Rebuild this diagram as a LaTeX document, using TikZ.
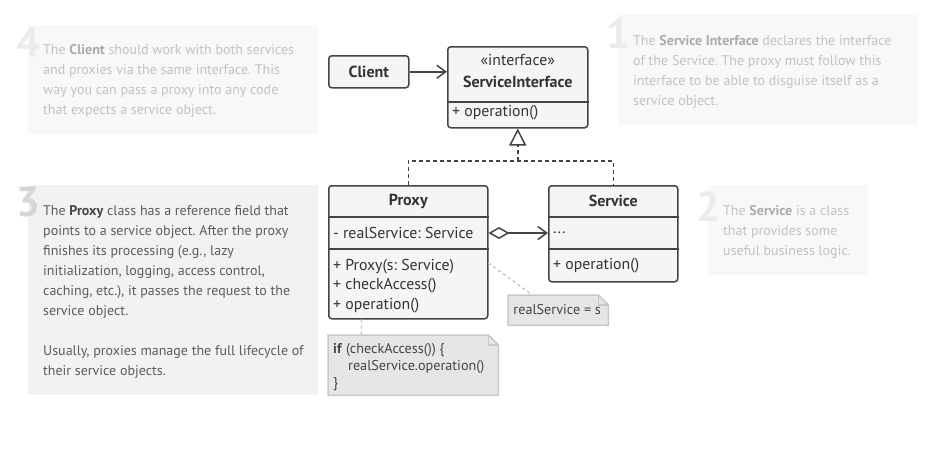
\documentclass[tikz,border=0pt]{standalone}
\usepackage{fontspec}
\setmainfont{PT Sans}
\usetikzlibrary{arrows.meta}
\definecolor{panelA}{HTML}{F8F8F8}
\definecolor{panelB}{HTML}{F2F2F2}
\definecolor{numA}{HTML}{EBEBEB}
\definecolor{numB}{HTML}{D6D6D6}
\definecolor{fadetxt}{HTML}{C2C2C2}
\definecolor{fadebold}{HTML}{ABABAB}
\definecolor{darktxt}{HTML}{5C5C5C}
\definecolor{darkbold}{HTML}{444444}
\definecolor{umlline}{HTML}{444444}
\definecolor{umlfill}{HTML}{F5F5F5}
\definecolor{umltxt}{HTML}{333333}
\definecolor{notefill}{HTML}{E6E6E6}
\definecolor{noteline}{HTML}{C8C8C8}
\definecolor{notetxt}{HTML}{444444}
\begin{document}
\frenchspacing
\begin{tikzpicture}[x=1pt,y=-1pt,
  panel/.style={fill=#1, draw=none, inner sep=0, anchor=north west},
  bignum/.style={anchor=north east, inner sep=0, text=#1,
    font=\fontsize{42}{42}\selectfont\bfseries},
  fadetext/.style={anchor=north west, inner sep=0, align=left, text=fadetxt,
    font=\fontsize{14}{20}\selectfont\frenchspacing},
  darktext/.style={anchor=north west, inner sep=0, align=left, text=darktxt,
    font=\fontsize{14}{20}\selectfont\frenchspacing},
  umlbox/.style={draw=umlline, fill=umlfill, line width=1.5pt, rounded corners=3pt,
    inner sep=0, anchor=north west},
  umlsep/.style={draw=umlline, line width=1.5pt},
  umltitle/.style={inner sep=0, text=umltxt, font=\fontsize{16}{18}\selectfont\bfseries},
  umlmember/.style={inner sep=0, anchor=west, text=umltxt, font=\fontsize{15.8}{18}\selectfont},
  conn/.style={draw=umlline, line width=1.5pt},
  dashconn/.style={draw=umlline, line width=1.5pt, dash pattern=on 4pt off 3pt},
  notebox/.style={inner sep=0, anchor=north west, draw=none},
  noteoutline/.style={draw=noteline, fill=notefill, line width=1.5pt, line join=miter},
  notetext/.style={inner sep=0, text=notetxt, font=\fontsize{14.2}{17}\selectfont},
  notelink/.style={draw=noteline, line width=1.5pt, dash pattern=on 3pt off 3pt},
  openhead/.tip={Straight Barb[length=9pt,width=13pt,line width=1.5pt]}
]
\useasboundingbox (0,0) rectangle (928,459);

% ---------- annotation panels ----------
\node[panel=panelA, minimum width=290pt, minimum height=109pt] (p4) at (28,25) {};
\node[bignum=numA] (n4) at (41,28) {4};
\node[fadetext] (t4) at (43,44) {The {\color{fadebold}\bfseries Client} should work with both services\\
and proxies via the same interface. This\\
way you can pass a proxy into any code\\
that expects a service object.};

\node[panel=panelA, minimum width=300pt, minimum height=110pt] (p1) at (618,15) {};
\node[bignum=numA] (n1) at (631,18) {1};
\node[fadetext] (t1) at (633,35) {The {\color{fadebold}\bfseries Service Interface} declares the interface\\
of the Service. The proxy must follow this\\
interface to be able to disguise itself as a\\
service object.};

\node[panel=panelB, minimum width=290pt, minimum height=210pt] (p3) at (28,185) {};
\node[bignum=numB] (n3) at (41,187) {3};
\node[darktext] (t3) at (43,205) {The {\color{darkbold}\bfseries Proxy} class has a reference field that\\
points to a service object. After the proxy\\
finishes its processing (e.g., lazy\\
initialization, logging, access control,\\
caching, etc.), it passes the request to the\\
service object.\\[20pt]
Usually, proxies manage the full lifecycle of\\
their service objects.};

\node[panel=panelA, minimum width=160pt, minimum height=90pt] (p2) at (708,185) {};
\node[bignum=numA] (n2) at (721,191) {2};
\node[fadetext] (t2) at (723,205) {The {\color{fadebold}\bfseries Service} is a class\\
that provides some\\
useful business logic.};

% ---------- Client ----------
\node[umlbox, minimum width=80pt, minimum height=32pt] (client) at (328,55) {};
\node[umltitle] (clientname) at (client.center) {Client};

% ---------- ServiceInterface ----------
\node[umlbox, minimum width=140pt, minimum height=81pt] (iface) at (447,46) {};
\draw[umlsep] ([yshift=-56pt]iface.north west) -- ([yshift=-56pt]iface.north east);
\node[inner sep=0, text=umltxt, font=\fontsize{15.8}{18}\selectfont] (ifstereo) at ([yshift=-14pt]iface.north) {«interface»};
\node[umltitle] (ifname) at ([yshift=-35.5pt]iface.north) {ServiceInterface};
\node[umlmember] (ifop) at ([xshift=5pt,yshift=-67pt]iface.north west) {+ operation()};

% ---------- Proxy ----------
\node[umlbox, minimum width=159pt, minimum height=133pt] (proxy) at (328,185) {};
\draw[umlsep] ([yshift=-32pt]proxy.north west) -- ([yshift=-32pt]proxy.north east);
\draw[umlsep] ([yshift=-64pt]proxy.north west) -- ([yshift=-64pt]proxy.north east);
\node[umltitle] (proxyname) at ([yshift=-16pt]proxy.north) {Proxy};
\node[umlmember] (pfield) at ([xshift=5pt,yshift=-48pt]proxy.north west) {- realService: Service};
\node[umlmember] (pm1) at ([xshift=5pt,yshift=-81.5pt]proxy.north west) {+ Proxy(s: Service)};
\node[umlmember] (pm2) at ([xshift=5pt,yshift=-101pt]proxy.north west) {+ checkAccess()};
\node[umlmember] (pm3) at ([xshift=5pt,yshift=-120.5pt]proxy.north west) {+ operation()};

% ---------- Service ----------
\node[umlbox, minimum width=129pt, minimum height=96pt] (service) at (548,185) {};
\draw[umlsep] ([yshift=-32pt]service.north west) -- ([yshift=-32pt]service.north east);
\draw[umlsep] ([yshift=-64pt]service.north west) -- ([yshift=-64pt]service.north east);
\node[umltitle] (servicename) at ([yshift=-16pt]service.north) {Service};
\node[umlmember] (sfield) at ([xshift=5pt,yshift=-48pt]service.north west) {...};
\node[umlmember] (sop) at ([xshift=5pt,yshift=-81pt]service.north west) {+ operation()};

% ---------- notes ----------
\node[notebox, minimum width=100pt, minimum height=30pt] (note1) at (508,295) {};
\draw[noteoutline] (note1.north west) -- ([xshift=-10pt]note1.north east)
  -- ([yshift=-10pt]note1.north east) -- (note1.south east) -- (note1.south west) -- cycle;
\draw[draw=noteline, line width=1.2pt] ([xshift=-10pt]note1.north east)
  -- ([xshift=-10pt,yshift=-10pt]note1.north east) -- ([yshift=-10pt]note1.north east);
\node[notetext] (note1txt) at ([xshift=-1pt,yshift=1pt]note1.center) {realService = s};

\node[notebox, minimum width=170pt, minimum height=60pt] (note2) at (328,335) {};
\draw[noteoutline] (note2.north west) -- ([xshift=-10pt]note2.north east)
  -- ([yshift=-10pt]note2.north east) -- (note2.south east) -- (note2.south west) -- cycle;
\draw[draw=noteline, line width=1.2pt] ([xshift=-10pt]note2.north east)
  -- ([xshift=-10pt,yshift=-10pt]note2.north east) -- ([yshift=-10pt]note2.north east);
\node[notetext, anchor=west] (n2l1) at ([xshift=5pt,yshift=-15pt]note2.north west) {\textbf{if} (checkAccess()) \{};
\node[notetext, anchor=west] (n2l2) at ([xshift=20pt,yshift=-32pt]note2.north west) {realService.operation()};
\node[notetext, anchor=west] (n2l3) at ([xshift=5pt,yshift=-49pt]note2.north west) {\}};

% ---------- connectors ----------
\draw[conn, -{openhead}] (client.east) -- (client.east -| iface.west);

\coordinate (junction) at (iface.south |- 0,161);
\draw[dashconn] (proxy.north) |- (junction) -| (service.north);
\draw[dashconn, -{Triangle[open, length=17pt, width=17pt, line width=1.5pt, fill=white]}]
  (junction) -- (iface.south);

\draw[conn, {Diamond[open, length=21pt, width=12pt, line width=1.5pt, fill=white]}-{openhead}]
  (proxy.east |- pfield) -- (service.west |- pfield);

\draw[notelink] ([yshift=-78pt]proxy.north east) -- ([xshift=-26pt]note1.north);
\draw[notelink] ([xshift=-46.5pt]proxy.south) -- ([xshift=-52pt]note2.north);
\end{tikzpicture}
\end{document}
